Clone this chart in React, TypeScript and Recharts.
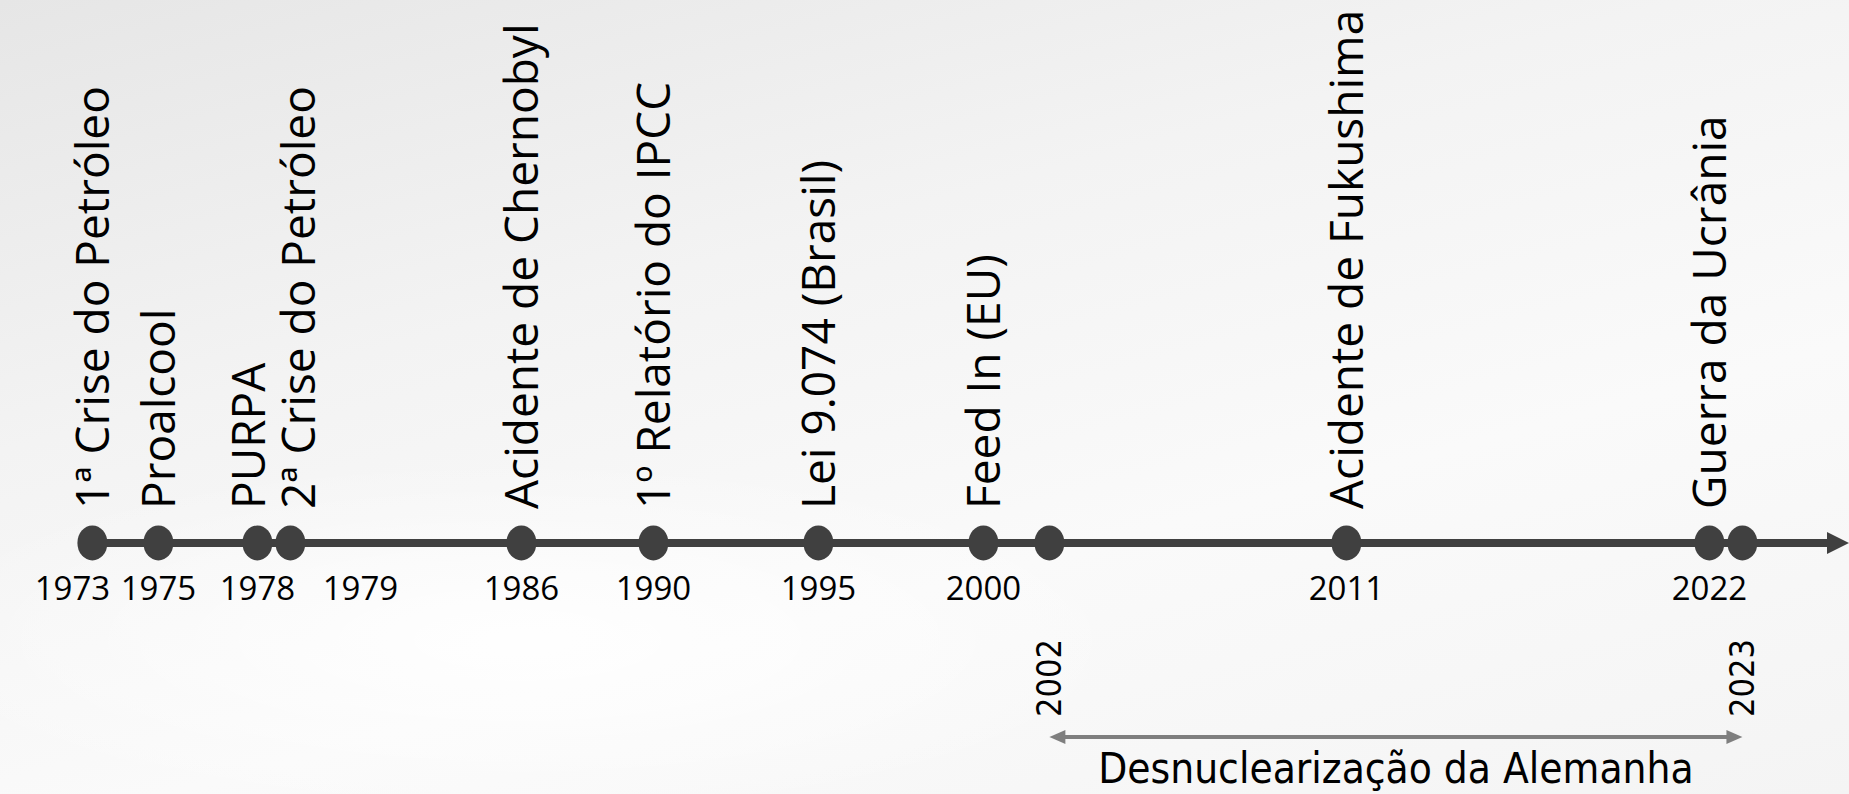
import { ReferenceLine, Scatter, ScatterChart, XAxis, YAxis } from "recharts"

const eventYears = [1973, 1975, 1978, 1979, 1986, 1990, 1995, 2000, 2002, 2011, 2022, 2023]
const eventNames = [
  "1ª Crise do Petróleo",
  "Proalcool",
  "PURPA",
  "2ª Crise do Petróleo",
  "Acidente de Chernobyl",
  "1º Relatório do IPCC",
  "Lei 9.074 (Brasil)",
  "Feed In (EU)",
  "",
  "Acidente de Fukushima",
  "Guerra da Ucrânia",
  "",
]
const phaseYears = [2002, 2023]
const phaseName = "Desnuclearização da Alemanha"

const data = eventYears.map((year, i) => ({ year, level: 0, name: eventNames[i] }))

// captions nudged sideways where neighbouring years would collide
const captionShift: Record<number, number> = { 1973: -20, 1979: 70 }
const nameShift: Record<number, number> = { 1978: -9, 1979: 8 }

const W = 1849
const H = 794
const DARK = "#404040"
const GREY = "#7f7f7f"
const SANS = "'Open Sans', 'Noto Sans', sans-serif"
const NARROW = "'DejaVu Sans Condensed', 'DejaVu Sans', sans-serif"

function EventMark(props: any) {
  const { cx, cy, payload } = props
  const shift = captionShift[payload.year] ?? 0
  const lx = cx + 16.5 + (nameShift[payload.year] ?? 0)
  const ly = cy - 34
  return (
    <g>
      <ellipse cx={cx} cy={cy} rx={15} ry={17.5} fill={DARK} />
      {payload.name && (
        <g>
          <text x={lx} y={ly} transform={`rotate(-90 ${lx} ${ly})`} fontSize={46} fontFamily={SANS} fill="#000">
            {payload.name}
          </text>
          <text x={cx + shift} y={cy + 57} textAnchor="middle" fontSize={33} fontFamily={SANS} fill="#000">
            {payload.year}
          </text>
        </g>
      )}
    </g>
  )
}

function TimelineAxis(props: any) {
  const { x1, y1, x2 } = props
  return (
    <g>
      <line x1={x1} y1={y1} x2={x2 - 18} y2={y1} stroke={DARK} strokeWidth={8} />
      <polygon points={`${x2},${y1} ${x2 - 22},${y1 - 11} ${x2 - 22},${y1 + 11}`} fill={DARK} />
    </g>
  )
}

function PhaseBracket(props: any) {
  const { x1, y1, x2 } = props
  const y = y1
  return (
    <g>
      <line x1={x1 + 14} y1={y} x2={x2 - 14} y2={y} stroke={GREY} strokeWidth={4} />
      <polygon points={`${x1},${y} ${x1 + 16},${y - 7} ${x1 + 16},${y + 7}`} fill={GREY} />
      <polygon points={`${x2},${y} ${x2 - 16},${y - 7} ${x2 - 16},${y + 7}`} fill={GREY} />
      {[x1, x2].map((x, i) => (
        <text
          key={i}
          x={x + 12}
          y={y - 20}
          transform={`rotate(-90 ${x + 12} ${y - 20})`}
          fontSize={34}
          fontFamily={NARROW}
          fontStretch="condensed"
          fill="#000"
        >
          {phaseYears[i]}
        </text>
      ))}
      <text
        x={(x1 + x2) / 2}
        y={y + 46}
        textAnchor="middle"
        fontSize={42}
        fontFamily={NARROW}
        fontStretch="condensed"
        fill="#000"
      >
        {phaseName}
      </text>
    </g>
  )
}

export default function App() {
  return (
    <div
      style={{
        position: "absolute",
        left: 0,
        top: 0,
        width: W,
        height: H,
        overflow: "hidden",
        background:
          "radial-gradient(ellipse 900px 260px at 520px 640px, rgba(255,255,255,0.9), rgba(255,255,255,0) 70%), linear-gradient(165deg, #e6e6e6 0%, #f3f3f3 35%, #fafafa 65%, #f4f4f4 100%)",
      }}
    >
      <ScatterChart width={W} height={H} margin={{ top: 0, right: 0, bottom: 0, left: 0 }}>
        <XAxis type="number" dataKey="year" domain={[1970.2, 2026.23]} allowDataOverflow hide />
        <YAxis type="number" dataKey="level" domain={[-1.294, 2.799]} allowDataOverflow hide />
        <ReferenceLine
          segment={[
            { x: eventYears[0], y: 0 },
            { x: 2026.23, y: 0 },
          ]}
          shape={TimelineAxis}
          ifOverflow="visible"
        />
        <ReferenceLine
          segment={[
            { x: phaseYears[0], y: -1 },
            { x: phaseYears[1], y: -1 },
          ]}
          shape={PhaseBracket}
          ifOverflow="visible"
        />
        <Scatter data={data} shape={EventMark} isAnimationActive={false} />
      </ScatterChart>
    </div>
  )
}
